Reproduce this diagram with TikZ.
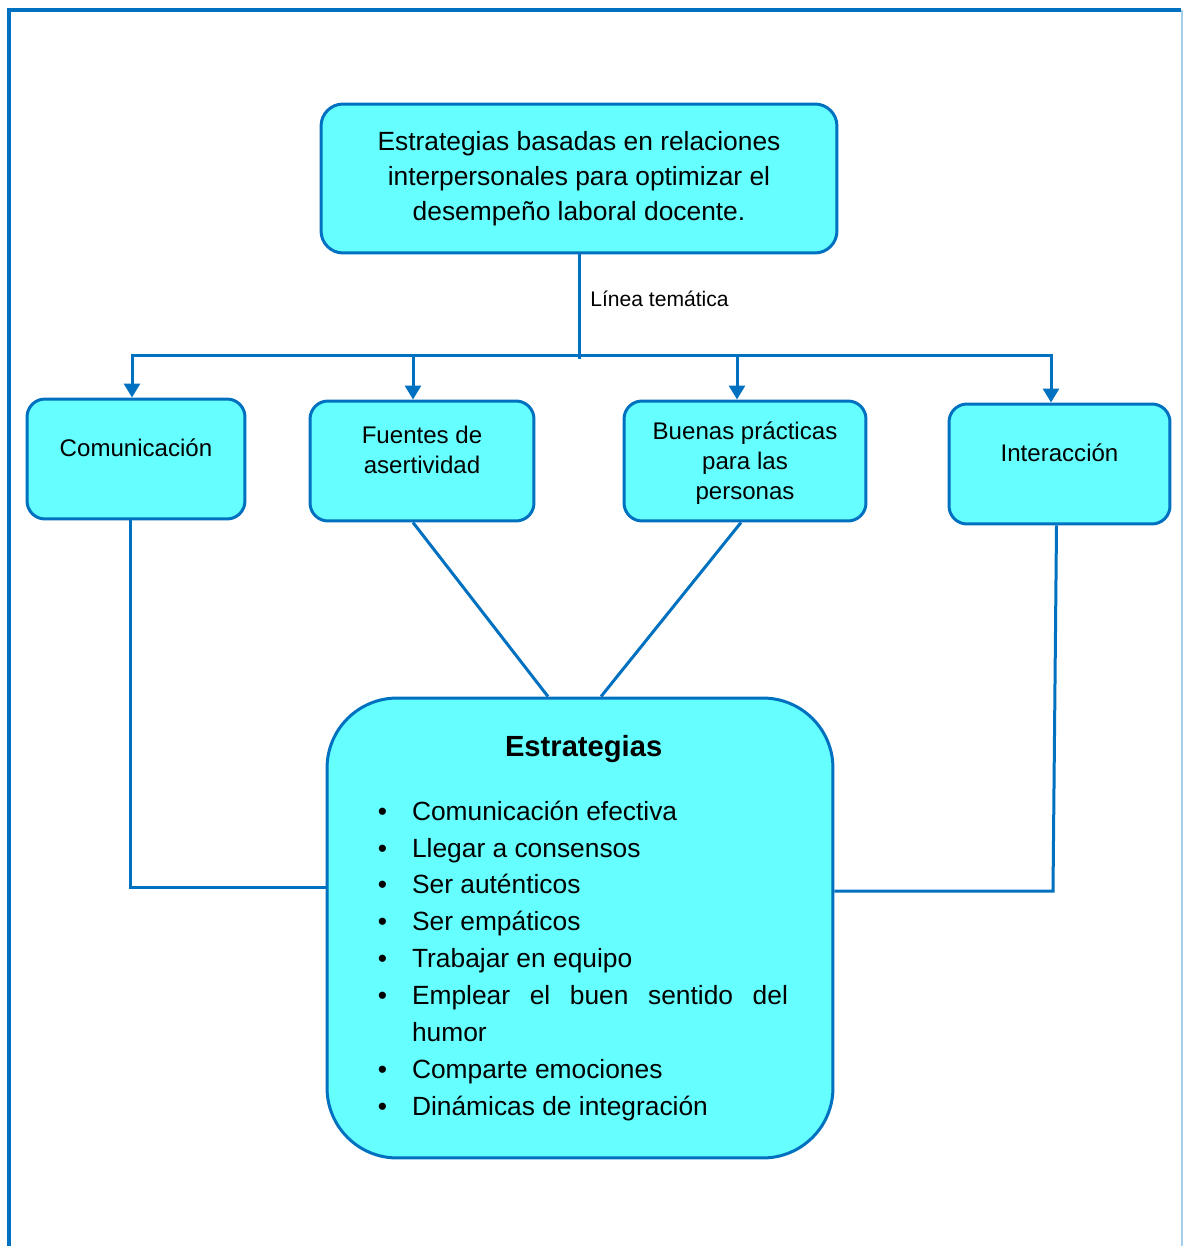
\documentclass[tikz,border=0pt]{standalone}
\usepackage{fontspec}
\setmainfont{Liberation Sans}
\usepackage{enumitem}
\usetikzlibrary{arrows.meta,calc,positioning}
\definecolor{celeste}{HTML}{66FFFF}
\definecolor{azul}{HTML}{0070C0}
\tikzset{>={Triangle[width=0.32cm,length=0.28cm]},
	caja/.style={% rounded boxes of the diagram
		draw=azul, fill=celeste,
		line width=0.06cm,
		rounded corners=0.36cm,
		minimum height=2.4cm,
		align=center,
		font=\fontsize{13.7}{17}\selectfont
	},
	bajo/.style={% text sits a bit above the middle
		text depth=0.44cm
	},
	cajagrande/.style={
		draw=azul, fill=celeste,
		line width=0.06cm,
		rounded corners=1.4cm,
		minimum width=10.12cm,
		minimum height=9.2cm,
		text width=8.32cm,
		align=justify,
		font=\fontsize{15}{21}\selectfont
	},
	conector/.style={
		draw=azul,
		line width=0.06cm
	}
}

\begin{document}
\begin{tikzpicture}[x=0.02cm,y=-0.02cm]
	\useasboundingbox (0,0) rectangle (1183,1246);
	% marco
	\draw [azul, line width=0.08cm] (9,1246) -- (9,10) -- (1181,10);
	\draw [azul!35, line width=0.04cm] (1182,10) -- (1182,1246);
	% nodos
	\node [caja, minimum width=10.32cm, minimum height=2.98cm, rounded corners=0.44cm,
		font=\fontsize{15}{20}\selectfont] (tema) at (579,178.5)
		{Estrategias basadas en relaciones\\interpersonales para optimizar el\\desempeño laboral docente.};
	\node [caja, bajo, minimum width=4.36cm] (com) at (136,459) {Comunicación};
	\node [caja, bajo, minimum width=4.48cm] (fue) at (422,461) {Fuentes de\\asertividad};
	\node [caja, text depth=0pt, minimum width=4.84cm] (bue) at (745,461) {Buenas prácticas\\para las\\personas};
	\node [caja, bajo, minimum width=4.42cm] (int) at (1059.5,464) {Interacción};
	\node [cajagrande] (est) at (580,928) {%
		\vspace*{0.32cm}
		{\centering\fontsize{16.6}{20}\selectfont\bfseries Estrategias\par}
		\hyphenpenalty=10000 \exhyphenpenalty=10000
		\begin{itemize}[leftmargin=0.8cm, labelsep=0.5cm, itemsep=0pt, parsep=0pt, partopsep=0pt, topsep=6.2pt]
			\item Comunicación efectiva
			\item Llegar a consensos
			\item Ser auténticos
			\item Ser empáticos
			\item Trabajar en equipo
			\item Emplear el buen sentido del humor
			\item Comparte emociones
			\item Dinámicas de integración
		\end{itemize}};
	% linea tematica
	\coordinate (bar) at (579,359);
	\draw [conector] (tema.south) -- node [right=0.08cm, pos=0.42, font=\fontsize{12}{14}\selectfont] (lin) {Línea temática} (bar);
	\coordinate (a1) at (132,356);
	\coordinate (a2) at (413,356);
	\coordinate (a3) at (737,356);
	\coordinate (a4) at (1051,356);
	\draw [conector] ($(a1)+(-1,0)$) -- ($(a4)+(2,0)$);
	\foreach \a/\b in {a1/com, a2/fue, a3/bue, a4/int}
		\draw [conector, ->] (\a) -- (\a |- \b.north);
	% hacia las estrategias
	\coordinate (c1) at (130,887);
	\coordinate (c4) at (1053,891);
	\draw [conector] (c1 |- com.south) -- (c1) -- (c1 -| est.west);
	\draw [conector] ($(int.south)+(-3,0)$) -- (c4) -- (c4 -| est.east);
	\draw [conector] ($(fue.south)+(-9,0)$) -- ($(est.north)+(-32,0)$);
	\draw [conector] ($(bue.south)+(-4,0)$) -- ($(est.north)+(21,0)$);
\end{tikzpicture}
\end{document}
